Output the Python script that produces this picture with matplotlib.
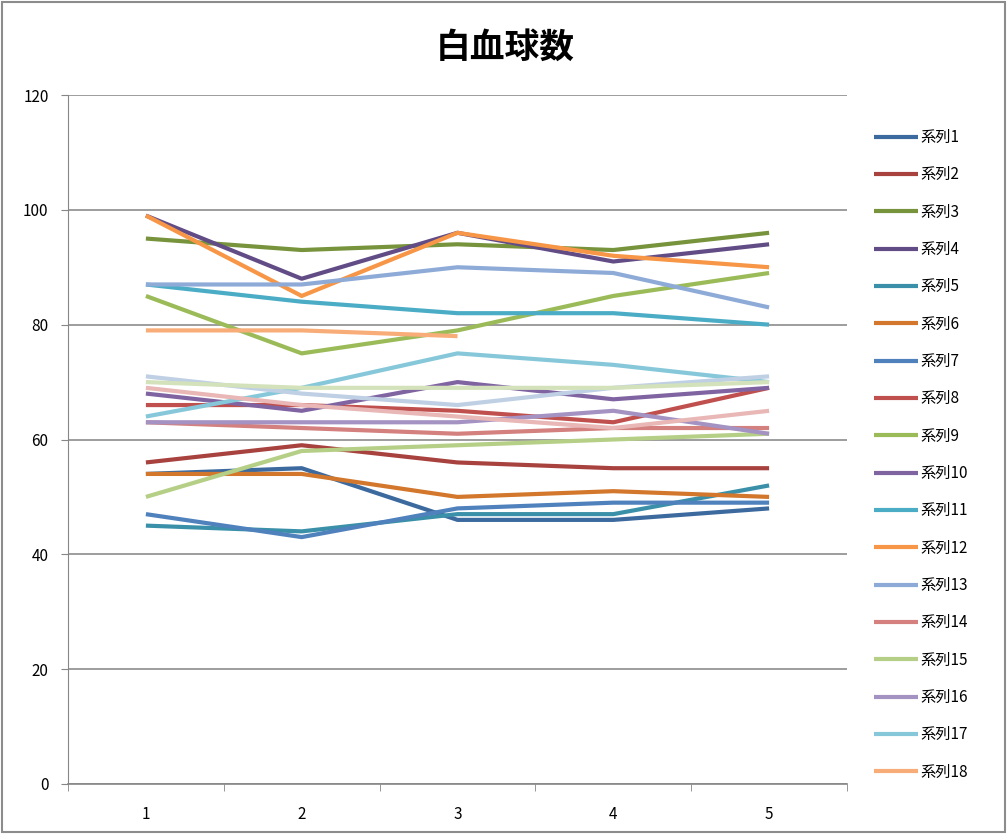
import matplotlib
matplotlib.use("Agg")
import matplotlib.pyplot as plt
import numpy as np

plt.rcParams["font.family"] = ["Noto Sans CJK JP", "DejaVu Sans"]

# category axis
x_labels = ["1", "2", "3", "4", "5"]

# values, one list per series
series_1 = [54, 55, 46, 46, 48]
series_2 = [56, 59, 56, 55, 55]
series_3 = [95, 93, 94, 93, 96]
series_4 = [99, 88, 96, 91, 94]
series_5 = [45, 44, 47, 47, 52]
series_6 = [54, 54, 50, 51, 50]
series_7 = [47, 43, 48, 49, 49]
series_8 = [66, 66, 65, 63, 69]
series_9 = [85, 75, 79, 85, 89]
series_10 = [68, 65, 70, 67, 69]
series_11 = [87, 84, 82, 82, 80]
series_12 = [99, 85, 96, 92, 90]
series_13 = [87, 87, 90, 89, 83]
series_14 = [63, 62, 61, 62, 62]
series_15 = [50, 58, 59, 60, 61]
series_16 = [63, 63, 63, 65, 61]
series_17 = [64, 69, 75, 73, 70]
series_18 = [79, 79, 78, np.nan, np.nan]
# the legend box in the reference is cut off after 系列18,
# these three pale lines have no visible entry
series_19 = [71, 68, 66, 69, 71]
series_20 = [69, 66, 64, 62, 65]
series_21 = [70, 69, 69, 69, 70]

all_series = [series_1, series_2, series_3, series_4, series_5, series_6,
              series_7, series_8, series_9, series_10, series_11, series_12,
              series_13, series_14, series_15, series_16, series_17, series_18,
              series_19, series_20, series_21]
names = ["系列%d" % (i + 1) for i in range(len(all_series))]
n_legend = 18

# office 2007 palette: darker, base, lighter, palest
colors = [
    "#3C6A9F", "#A8423F", "#77933C", "#624C86", "#3A90A8", "#D2772C",
    "#4F81BD", "#C0504D", "#9BBB59", "#8064A2", "#4BACC6", "#F79646",
    "#8EABD8", "#D3807E", "#B5CF86", "#A492C2", "#86C8DA", "#F8AD78",
    "#BFCFE4", "#E8B7B6", "#D3E2BA",
]

fig = plt.figure(figsize=(10.07, 8.34), dpi=100)
ax = fig.add_axes([68 / 1007, 1 - 784 / 834, (847 - 68) / 1007, (784 - 95) / 834])

xs = np.arange(1, len(x_labels) + 1)
lines = []
for vals, name, col in zip(all_series, names, colors):
    (ln,) = ax.plot(xs, vals, color=col, lw=3, label=name, solid_capstyle="butt")
    lines.append(ln)

ax.set_xlim(0.5, 5.5)
ax.set_ylim(0, 120)
ax.set_yticks(np.arange(0, 121, 20))
ax.set_xticks(xs)
ax.set_xticklabels(x_labels)
ax.set_xticks(np.arange(0.5, 5.6, 1), minor=True)
ax.tick_params(axis="x", which="major", length=0, pad=16, labelsize=11)
ax.tick_params(axis="x", which="minor", length=5, color="#868686", direction="out")
ax.tick_params(axis="y", length=5, color="#868686", pad=9, labelsize=11)

ax.grid(axis="y", color="#8C8C8C", lw=1.2)
ax.set_axisbelow(True)
for side in ["top", "right"]:
    ax.spines[side].set_visible(False)
ax.spines["left"].set_color("#868686")
ax.spines["bottom"].set_color("#868686")
ax.spines["bottom"].set_linewidth(1.2)

fig.text(0.502, 1 - 47 / 834, "白血球数", ha="center", va="center",
         fontsize=25, fontweight="bold")

fig.legend(handles=lines[:n_legend], loc="upper left",
           bbox_to_anchor=(868 / 1007, 1 - 123 / 834),
           frameon=False, fontsize=11, handlelength=2.9, handletextpad=0.1,
           labelspacing=1.33, borderaxespad=0)

# chart frame
fig.patches.append(plt.Rectangle((0.002, 0.002), 0.996, 0.996,
                                 transform=fig.transFigure, fill=False,
                                 edgecolor="#8C8C8C", lw=1.5))

fig.savefig("out.png", dpi=100)
